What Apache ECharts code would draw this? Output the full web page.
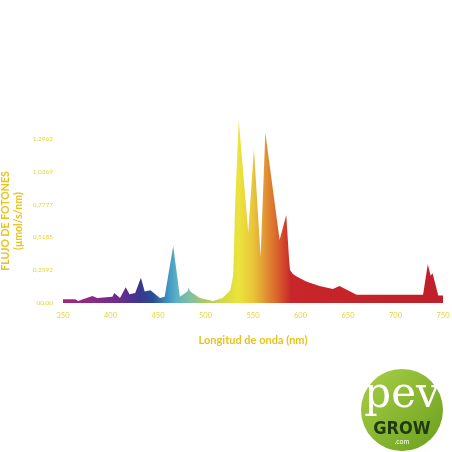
<!DOCTYPE html>
<html>
<head>
<meta charset="utf-8">
<script src="https://cdn.jsdelivr.net/npm/echarts@6/dist/echarts.min.js"></script>
<style>html,body{margin:0;padding:0;background:#fff;}#c{width:452px;height:452px;}</style>
</head>
<body>
<div id="c"></div>
<script>
// Wavelength (nm) and photon flux values
const wavelengths = [350,363,366,371,381,386,402,404,410,416,420,426,432,436,442,452,457,466,473,481,482,484,494,508,518,526,529,530,531,535,545,551,558,563,578,585,588,589,592,596,606,620,634,641,659,729,734,737,739,745,750];
const flux        = [0.03,0.03,0.015,0.03,0.055,0.04,0.05,0.08,0.04,0.125,0.07,0.08,0.2,0.09,0.10,0.04,0.05,0.45,0.05,0.09,0.12,0.09,0.04,0.015,0.04,0.10,0.21,0.42,0.74,1.447,0.56,1.217,0.366,1.346,0.498,0.696,0.34,0.26,0.23,0.21,0.169,0.134,0.11,0.134,0.065,0.065,0.306,0.216,0.235,0.06,0.06];
const yTickLabels = ['00,00','0,2592','0,5185','0,7777','1,0369','1,2962'];
const yStep = 0.25924;
const xTickLabels = ['350','400','450','500','550','600','650','700','750'];

const chart = echarts.init(document.getElementById('c'));
const tickColor = '#e2d43e';
const titleColor = '#e8c31e';
chart.setOption({
  animation: false,
  backgroundColor: '#ffffff',
  grid: {left: 63, right: 9, top: 139, bottom: 149, containLabel: false, outerBoundsMode: 'none'},
  xAxis: {
    type: 'value', min: 350, max: 750, interval: 50,
    axisLine: {show: false}, axisTick: {show: false}, splitLine: {show: false},
    axisLabel: {color: tickColor, fontSize: 7.5, fontFamily: 'Lato', margin: 9,
      formatter: v => xTickLabels[Math.round((v - 350) / 50)]},
    name: 'Longitud de onda (nm)', nameLocation: 'middle', nameGap: 32,
    nameTextStyle: {color: titleColor, fontSize: 11, fontWeight: 'bold', fontFamily: 'Lato'}
  },
  yAxis: {
    type: 'value', min: 0, max: 1.2962, interval: yStep,
    axisLine: {show: false}, axisTick: {show: false}, splitLine: {show: false},
    axisLabel: {color: tickColor, fontSize: 6.5, fontFamily: 'Lato', margin: 10,
      formatter: v => yTickLabels[Math.round(v / yStep)]},
    name: 'FLUJO DE FOTONES\n(μmol/s/nm)', nameLocation: 'middle', nameRotate: 90, nameGap: 38,
    nameMoveOverlap: false,
    nameTextStyle: {color: titleColor, fontSize: 10.5, fontWeight: 'bold', fontFamily: 'Lato', lineHeight: 13}
  },
  series: [{
    type: 'line',
    data: wavelengths.map((w, i) => [w, flux[i]]),
    symbol: 'none', clip: false,
    lineStyle: {width: 0},
    areaStyle: {
      opacity: 1,
      color: new echarts.graphic.LinearGradient(0, 0, 1, 0, [
        {offset: 0, color: '#a2287c'},
        {offset: 0.075, color: '#8c2a88'},
        {offset: 0.15, color: '#6a2c8e'},
        {offset: 0.2, color: '#3a3690'},
        {offset: 0.2375, color: '#2c4c98'},
        {offset: 0.275, color: '#3e92c2'},
        {offset: 0.3, color: '#5cb2c4'},
        {offset: 0.3375, color: '#84c29c'},
        {offset: 0.375, color: '#acc95c'},
        {offset: 0.425, color: '#d4da46'},
        {offset: 0.4625, color: '#ece43c'},
        {offset: 0.5, color: '#e9c63a'},
        {offset: 0.53, color: '#e39834'},
        {offset: 0.5625, color: '#da642c'},
        {offset: 0.6, color: '#c8262a'},
        {offset: 1, color: '#bf1f29'}
      ])
    }
  }],
  graphic: [{
    type: 'group', left: 361, top: 369,
    children: [
      {type: 'circle', shape: {cx: 41, cy: 41, r: 41},
        style: {fill: new echarts.graphic.LinearGradient(0, 0, 1, 1, [
          {offset: 0, color: '#a9d046'}, {offset: 1, color: '#6a9e1e'}])}},
      {type: 'text', style: {text: 'pev', x: 41, y: 27, align: 'center', verticalAlign: 'middle',
        fill: '#ffffff', font: '300 42px "DejaVu Serif"'}},
      {type: 'text', style: {text: 'GROW', x: 41, y: 60, align: 'center', verticalAlign: 'middle',
        fill: '#1f3a10', font: 'bold 18px "Liberation Sans Narrow", "DejaVu Sans Condensed", sans-serif'}},
      {type: 'text', style: {text: '.com', x: 41, y: 73, align: 'center', verticalAlign: 'middle',
        fill: '#ffffff', font: '7px Lato'}}
    ]
  }]
});
</script>
</body>
</html>
